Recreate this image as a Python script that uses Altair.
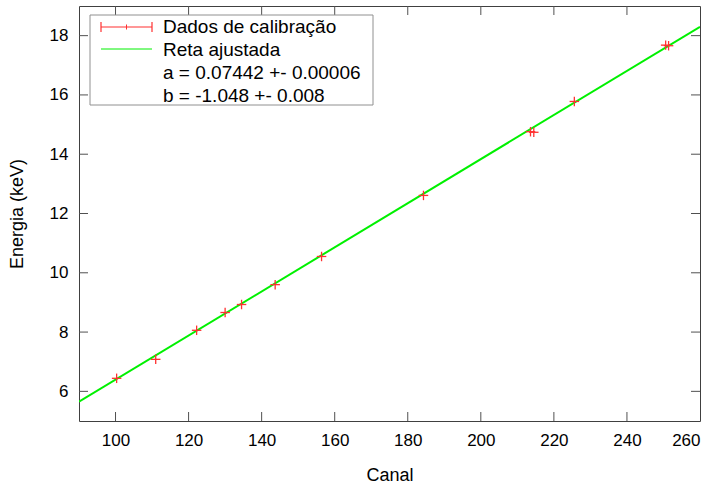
import altair as alt
import pandas as pd

# Calibration data
canal = [100.3, 111.0, 122.2, 130.0, 134.5, 143.7, 156.4, 184.3, 213.6, 214.5, 225.6, 250.6, 251.4]
energia = [6.44, 7.08, 8.06, 8.66, 8.93, 9.60, 10.55, 12.61, 14.76, 14.74, 15.78, 17.68, 17.66]
err_canal = [1.3] * len(canal)
err_energia = [0.16] * len(canal)

# Fitted line end points
fit_x = [90, 260]
fit_y = [5.65, 18.30]

x_ticks = [100, 120, 140, 160, 180, 200, 220, 240]
y_ticks = [6, 8, 10, 12, 14, 16, 18]

legend_lines = ["Dados de calibração", "Reta ajustada",
                "a = 0.07442 +- 0.00006", "b = -1.048 +- 0.008"]

W, H = 621, 415
FONT = "Liberation Sans"

pts = pd.DataFrame({"x": canal, "y": energia, "ex": err_canal, "ey": err_energia})
pts["xlo"] = pts.x - pts.ex
pts["xhi"] = pts.x + pts.ex
pts["ylo"] = pts.y - pts.ey
pts["yhi"] = pts.y + pts.ey
fit = pd.DataFrame({"x": fit_x, "y": fit_y})
xt = pd.DataFrame({"x": x_ticks})
yt = pd.DataFrame({"y": y_ticks})
one = pd.DataFrame({"a": [0]})

xscale = alt.Scale(domain=[90, 260], nice=False, zero=False)
yscale = alt.Scale(domain=[5, 19], nice=False, zero=False)

xaxis = alt.Axis(values=[100, 120, 140, 160, 180, 200, 220, 240, 260], ticks=False, domain=False,
                 grid=False, labelFontSize=17, labelPadding=11, labelFont=FONT, labelColor="black",
                 title="Canal", titleFont=FONT, titleFontSize=18, titleFontWeight="normal",
                 titleColor="black", titlePadding=18)
yaxis = alt.Axis(values=y_ticks, ticks=False, domain=False, grid=False, labelFontSize=17,
                 labelPadding=11, labelFont=FONT, labelColor="black",
                 title="Energia (keV)", titleFont=FONT, titleFontSize=18, titleFontWeight="normal",
                 titleColor="black", titlePadding=23)

line = alt.Chart(fit).mark_line(color="#00f000", strokeWidth=2, clip=True).encode(
    x=alt.X("x:Q", scale=xscale, axis=xaxis),
    y=alt.Y("y:Q", scale=yscale, axis=yaxis),
)

red = "#ff3030"
hbar = alt.Chart(pts).mark_rule(color=red, strokeWidth=1.3).encode(
    x="xlo:Q", x2="xhi:Q", y="y:Q")
vbar = alt.Chart(pts).mark_rule(color=red, strokeWidth=1.3).encode(
    x="x:Q", y="ylo:Q", y2="yhi:Q")

tcol = "#505050"
tick_b = alt.Chart(xt).mark_rule(color=tcol).encode(x="x:Q", y=alt.value(H), y2=alt.value(H - 9))
tick_t = alt.Chart(xt).mark_rule(color=tcol).encode(x="x:Q", y=alt.value(0), y2=alt.value(9))
tick_l = alt.Chart(yt).mark_rule(color=tcol).encode(y="y:Q", x=alt.value(0), x2=alt.value(9))
tick_r = alt.Chart(yt).mark_rule(color=tcol).encode(y="y:Q", x=alt.value(W), x2=alt.value(W - 9))

# Legend box
lbox = alt.Chart(one).mark_rect(fill="white", stroke="#909090", strokeWidth=1).encode(
    x=alt.value(11), x2=alt.value(294), y=alt.value(9), y2=alt.value(99))
lerr = alt.Chart(one).mark_rule(color=red, strokeWidth=1.2).encode(
    x=alt.value(22), x2=alt.value(73), y=alt.value(21))
lcap1 = alt.Chart(one).mark_rule(color=red, strokeWidth=1.2).encode(
    x=alt.value(22), y=alt.value(16), y2=alt.value(26))
lcap2 = alt.Chart(one).mark_rule(color=red, strokeWidth=1.2).encode(
    x=alt.value(73), y=alt.value(16), y2=alt.value(26))
lmid = alt.Chart(one).mark_rule(color=red, strokeWidth=1).encode(
    x=alt.value(47.5), y=alt.value(18.5), y2=alt.value(23.5))
lgreen = alt.Chart(one).mark_rule(color="#00f000", strokeWidth=1).encode(
    x=alt.value(22), x2=alt.value(73), y=alt.value(43))
ltexts = [
    alt.Chart(one).mark_text(align="left", baseline="middle", font=FONT, fontSize=19,
                             color="black").encode(
        x=alt.value(84), y=alt.value(21 + 23 * i), text=alt.value(t))
    for i, t in enumerate(legend_lines)
]

chart = alt.layer(
    line, hbar, vbar, tick_b, tick_t, tick_l, tick_r,
    lbox, lerr, lcap1, lcap2, lmid, lgreen, *ltexts
).properties(
    width=W, height=H,
    autosize=alt.AutoSizeParams(type="none"),
    padding={"left": 79, "top": 6, "right": 20, "bottom": 64},
    background="white",
).configure_view(stroke="#404040", strokeWidth=1)

chart.save("out.html", embed_options={"renderer": "svg", "actions": False})
